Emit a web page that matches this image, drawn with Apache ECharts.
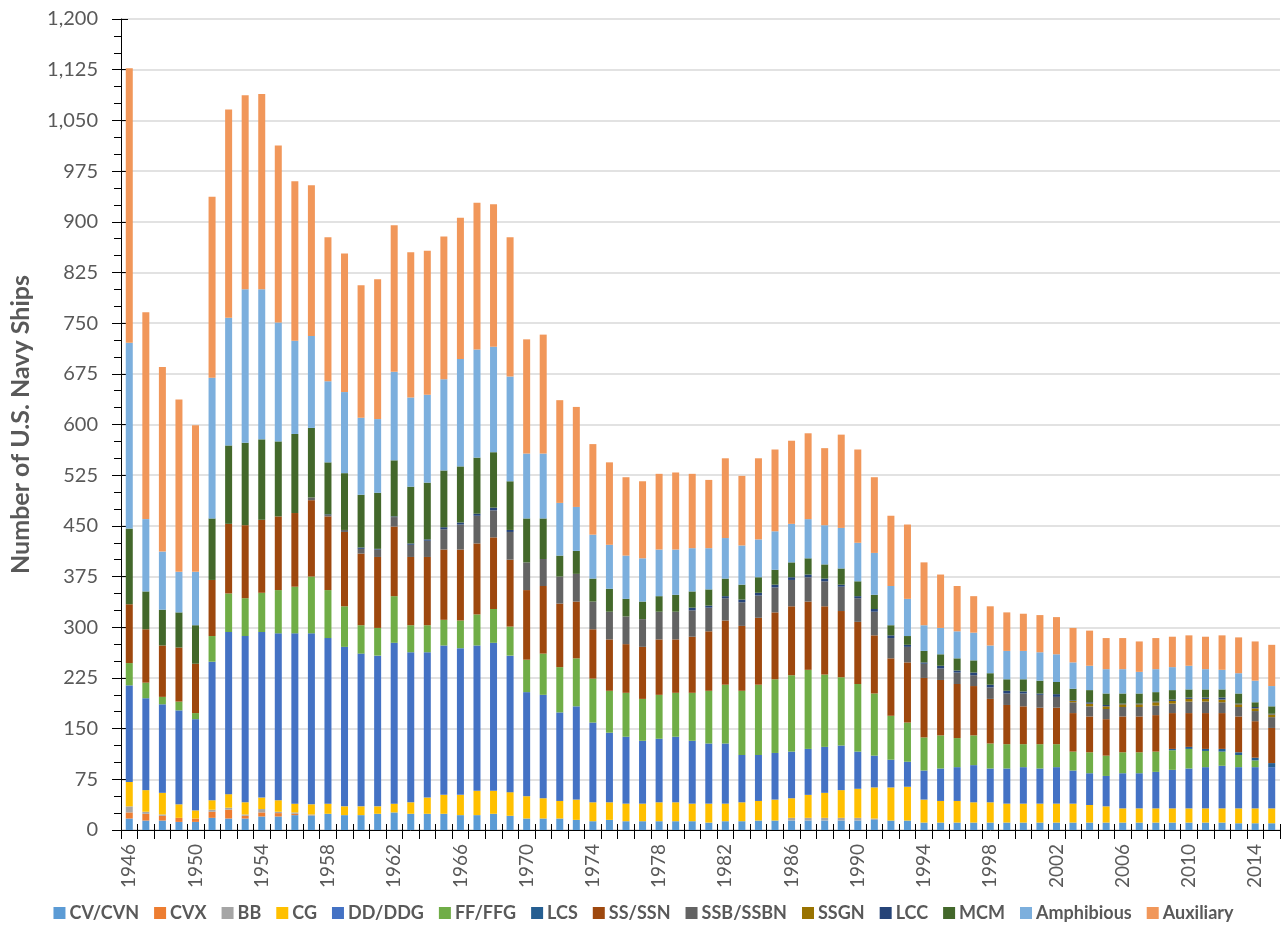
<!DOCTYPE html>
<html>
<head>
<meta charset="utf-8">
<script src="https://cdn.jsdelivr.net/npm/echarts@6/dist/echarts.min.js"></script>
<style>
html,body{margin:0;padding:0;background:#fff;}
#chart{width:1287px;height:934px;}
</style>
</head>
<body>
<div id="chart"></div>
<script>
const years = [];
for (let y = 1946; y <= 2015; y++) years.push(String(y));

const cv = [17,14,14,12,12,18,17,17,20,20, 22,21,24,22,22,24,26,24,24,24, 22,22,24,21,17,17,17,15,13,15, 13,13,13,13,13,11,13,13,14,14, 14,14,14,14,14,15,14,14,11,11, 11,11,11,11,11,11,11,11,11,11, 11,11,11,11,11,11,11,10,10,10];
const cvx = [9,10,7,6,5,9,13,4,6,5, 2,0,0,0,0,0,0,0,0,0, 0,0,0,0,0,0,0,0,0,0, 0,0,0,0,0,0,0,0,0,0, 0,0,0,0,0,0,0,0,0,0, 0,0,0,0,0,0,0,0,0,0, 0,0,0,0,0,0,0,0,0,0];
const bb = [9,3,2,0,0,3,3,2,5,2, 2,2,0,0,0,0,0,0,0,0, 0,0,0,0,0,0,0,0,0,0, 0,0,0,0,0,0,0,0,0,0, 4,4,4,4,4,2,0,0,0,0, 0,0,0,0,0,0,0,0,0,0, 0,0,0,0,0,0,0,0,0,0];
const cg = [36,32,32,20,12,14,20,18,17,17, 13,15,15,13,13,11,13,17,24,28, 30,36,34,35,33,30,26,30,28,26, 26,26,28,28,26,28,26,28,29,31, 29,34,37,41,43,46,49,50,34,32, 32,30,30,28,28,28,28,28,26,24, 21,21,21,21,21,21,21,22,22,22];
const dd = [143,136,131,139,135,205,240,246,245,247, 252,253,245,236,226,223,238,222,215,221, 217,215,219,202,154,153,131,138,118,103, 99,93,94,97,93,89,89,70,68,69, 69,68,68,66,55,47,41,37,43,48, 50,55,50,52,54,52,54,49,47,45, 52,52,54,57,59,61,63,61,61,61];
const ff = [33,23,11,13,9,38,57,56,58,64, 69,84,71,60,42,41,69,40,40,38, 41,46,50,43,48,61,67,71,65,62, 65,62,65,65,71,78,87,95,104,109, 113,117,107,101,100,92,65,58,49,49, 43,44,37,36,34,36,34,28,31,30, 31,31,30,29,29,24,21,18,10,0];
const lcs = [0,0,0,0,0,0,0,0,0,0, 0,0,0,0,0,0,0,0,0,0, 0,0,0,0,0,0,0,0,0,0, 0,0,0,0,0,0,0,0,0,0, 0,0,0,0,0,0,0,0,0,0, 0,0,0,0,0,0,0,0,0,0, 0,0,0,2,3,3,4,4,4,6];
const ss = [87,79,76,80,73,83,103,108,108,109, 109,113,109,110,106,105,103,101,101,104, 105,105,106,99,103,100,94,84,73,76, 72,77,82,79,83,88,95,96,99,99, 102,101,101,98,92,86,85,89,88,82, 80,73,66,58,56,54,54,57,53,54, 53,53,54,53,50,53,53,53,54,52];
const ssb = [0,0,0,0,0,0,0,0,0,0, 0,4,2,3,7,11,14,18,24,30, 37,41,40,41,41,40,40,41,41,41, 41,41,41,41,39,35,33,35,33,37, 39,36,37,36,35,35,30,23,21,17, 17,16,17,17,19,19,16,16,15,15, 14,14,14,14,17,17,16,14,15,16];
const ssgn = [0,0,0,0,0,0,0,0,0,0, 0,0,0,0,0,0,0,0,0,0, 0,0,0,0,0,0,0,0,0,0, 0,0,0,0,0,0,0,0,0,0, 0,0,0,0,0,0,0,0,0,0, 0,0,0,0,0,0,0,2,4,4, 4,4,5,4,4,4,4,4,4,4];
const lcc = [0,0,0,0,0,0,0,0,0,0, 0,0,1,0,2,1,1,2,2,3, 3,3,4,3,0,0,0,0,0,0, 0,0,0,0,4,3,3,4,4,4, 4,4,4,3,3,4,4,3,2,4, 3,4,4,4,3,2,4,1,2,2, 1,1,1,2,2,2,3,1,2,1];
const mcm = [112,56,53,52,57,91,116,122,119,111, 117,103,77,84,78,83,83,84,84,84, 83,83,82,72,65,60,31,34,34,34, 26,26,23,25,24,24,26,22,23,22, 22,24,21,24,22,21,15,13,17,17, 18,18,17,17,18,19,18,17,18,17, 15,15,14,14,12,12,12,15,7,11];
const amphibious = [275,107,86,60,79,208,189,227,222,176, 138,136,120,120,114,109,131,132,130,135, 159,160,156,155,96,96,78,65,65,65, 64,64,69,67,64,61,60,58,56,57, 57,58,58,60,57,62,58,55,38,39, 40,41,41,42,42,42,41,39,36,36, 36,32,34,34,35,30,29,30,32,30];
const auxiliary = [406,306,273,255,217,268,308,287,289,262, 236,223,213,205,196,207,217,215,213,211, 209,217,211,206,169,176,152,148,134,122, 116,114,112,114,110,101,118,103,120,121, 123,127,114,138,138,112,104,110,93,79, 67,54,58,57,55,55,55,51,52,46, 46,45,46,45,45,48,51,53,58,61];

const seriesNames = ['CV/CVN','CVX','BB','CG','DD/DDG','FF/FFG','LCS','SS/SSN','SSB/SSBN','SSGN','LCC','MCM','Amphibious','Auxiliary'];
const seriesData = [cv,cvx,bb,cg,dd,ff,lcs,ss,ssb,ssgn,lcc,mcm,amphibious,auxiliary];
const colors = ['#5B9BD5','#ED7D31','#A5A5A5','#FFC000','#4472C4','#70AD47','#255E91','#9E480E','#636363','#997300','#264478','#43682B','#7CAFDD','#F1975A'];

const yMin = 0, yMax = 1200, yStep = 75;
const FONT = 'Lato, "Open Sans", sans-serif';
const GREY = '#595959';

const chart = echarts.init(document.getElementById('chart'), null, {renderer:'canvas'});
chart.setOption({
  animation: false,
  color: colors,
  grid: {left: 117, right: 7, top: 19, bottom: 104, containLabel: false},
  legend: {
    top: 899, left: 'center',
    icon: 'rect', itemWidth: 12, itemHeight: 12, itemGap: 15,
    textStyle: {fontFamily: FONT, fontSize: 18, fontWeight: 'bold', color: GREY, padding: [0,0,0,-1]},
    data: seriesNames
  },
  xAxis: [{
    type: 'category', data: years,
    axisLine: {show: true, lineStyle: {color: '#000', width: 1}},
    axisTick: {show: true, interval: 0, length: 9, lineStyle: {color: '#000', width: 1}},
    axisLabel: {interval: 3, rotate: 90, fontFamily: FONT, fontSize: 19, color: GREY, margin: 14},
    splitLine: {show: false}
  }, {
    type: 'category', data: years, position: 'bottom',
    axisLine: {show: false},
    axisTick: {show: true, inside: true, interval: 0, length: 6, lineStyle: {color: '#000', width: 1}},
    axisLabel: {show: false},
    splitLine: {show: false}
  }],
  yAxis: [{
    type: 'value', min: yMin, max: yMax, interval: yStep,
    name: 'Number of U.S. Navy Ships', nameLocation: 'middle', nameGap: 88,
    nameTextStyle: {fontFamily: FONT, fontSize: 25, fontWeight: 'bold', color: GREY},
    axisLine: {show: true, lineStyle: {color: '#000', width: 1}},
    axisTick: {show: true, length: 9, lineStyle: {color: '#000', width: 1}},
    minorTick: {show: true, splitNumber: 3, length: 7, lineStyle: {color: '#000', width: 1}},
    axisLabel: {fontFamily: FONT, fontSize: 20, color: GREY, margin: 23,
      formatter: v => v.toLocaleString('en-US')},
    splitLine: {show: true, lineStyle: {color: '#D9D9D9', width: 1.5}}
  }, {
    type: 'value', min: yMin, max: yMax, interval: yStep, position: 'left',
    axisLine: {show: false},
    axisTick: {show: true, inside: true, length: 7, lineStyle: {color: '#000', width: 1}},
    axisLabel: {show: false},
    splitLine: {show: false}
  }],
  series: seriesNames.map((n, i) => ({
    name: n, type: 'bar', stack: 'total', data: seriesData[i],
    barWidth: 7, xAxisIndex: 0, yAxisIndex: 0,
    itemStyle: {color: colors[i]},
    emphasis: {disabled: true}
  }))
});
</script>
</body>
</html>
